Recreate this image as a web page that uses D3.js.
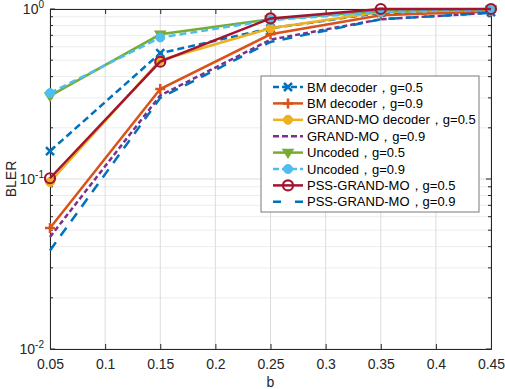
<!DOCTYPE html>
<html>
<head>
<meta charset="utf-8">
<script src="https://cdn.jsdelivr.net/npm/d3@7"></script>
<style>
	body { margin: 0; background: #fff; }
	text { font-family: "Liberation Sans", Arial, sans-serif; }
</style>
</head>
<body>
<div id="chart"></div>
<script>
// data
var bValues = [0.05, 0.15, 0.25, 0.35, 0.45];
var xTicks = [0.05, 0.1, 0.15, 0.2, 0.25, 0.3, 0.35, 0.4, 0.45];
var yDecades = [-2, -1, 0];

var seriesNames = [
	'BM decoder，g=0.5',
	'BM decoder，g=0.9',
	'GRAND-MO decoder，g=0.5',
	'GRAND-MO，g=0.9',
	'Uncoded，g=0.5',
	'Uncoded，g=0.9',
	'PSS-GRAND-MO，g=0.5',
	'PSS-GRAND-MO，g=0.9'
];

var bmG05 = [0.146, 0.55, 0.77, 0.95, 0.96];
var bmG09 = [0.0515, 0.338, 0.71, 0.92, 0.97];
var grandG05 = [0.096, 0.50, 0.77, 0.96, 0.99];
var grandG09 = [0.0456, 0.31, 0.66, 0.87, 0.95];
var uncodedG05 = [0.308, 0.71, 0.87, 0.97, 1.0];
var uncodedG09 = [0.32, 0.68, 0.86, 0.96, 0.99];
var pssG05 = [0.101, 0.49, 0.88, 1.0, 1.0];
var pssG09 = [0.038, 0.30, 0.64, 0.87, 0.95];

var svgWidth = 505;
var svgHeight = 389;
var margin = {left: 50, top: 9, right: 14, bottom: 40};
var plotW = svgWidth - margin.left - margin.right;
var plotH = svgHeight - margin.top - margin.bottom;

var styles = [
	{values: bmG05, color: '#0072BD', dash: '7,4', marker: 'x'},
	{values: bmG09, color: '#D95319', dash: null, marker: '+'},
	{values: grandG05, color: '#EDB120', dash: null, marker: 'dot'},
	{values: grandG09, color: '#7E2F8E', dash: '5,3', marker: null},
	{values: uncodedG05, color: '#77AC30', dash: null, marker: 'tri'},
	{values: uncodedG09, color: '#4DBEEE', dash: '7,4', marker: 'dot'},
	{values: pssG05, color: '#A2142F', dash: null, marker: 'o'},
	{values: pssG09, color: '#0072BD', dash: '10,8', marker: null}
];

var x = d3.scaleLinear().domain([0.05, 0.45]).range([0, plotW]);
var y = d3.scaleLog().domain([0.01, 1]).range([plotH, 0]);

var svg = d3.select('#chart')
	.append('svg')
	.attr('width', svgWidth)
	.attr('height', svgHeight);

var g = svg.append('g')
	.attr('transform', 'translate(' + margin.left + ',' + margin.top + ')');

// grid
var minor = [];
for (var d = -2; d < 0; d++) {
	for (var k = 2; k < 10; k++) minor.push(k * Math.pow(10, d));
}
g.selectAll('.ygrid-minor')
	.data(minor)
	.enter()
	.append('line')
	.attr('x1', 0).attr('x2', plotW)
	.attr('y1', function(d) { return y(d); })
	.attr('y2', function(d) { return y(d); })
	.attr('stroke', '#ececec')
	.attr('stroke-width', 1);

g.selectAll('.ygrid')
	.data(yDecades)
	.enter()
	.append('line')
	.attr('x1', 0).attr('x2', plotW)
	.attr('y1', function(d) { return y(Math.pow(10, d)); })
	.attr('y2', function(d) { return y(Math.pow(10, d)); })
	.attr('stroke', '#dcdcdc');

g.selectAll('.xgrid')
	.data(xTicks)
	.enter()
	.append('line')
	.attr('x1', function(d) { return x(d); })
	.attr('x2', function(d) { return x(d); })
	.attr('y1', 0).attr('y2', plotH)
	.attr('stroke', '#dcdcdc');

// axes with inward ticks
var xAxis = d3.axisBottom(x).tickValues(xTicks).tickSize(-5).tickPadding(10)
	.tickFormat(function(d) { return d3.format('')(+d.toFixed(2)); });
var gx = g.append('g')
	.attr('transform', 'translate(0,' + plotH + ')')
	.call(xAxis);
gx.select('.domain').attr('stroke', '#262626');
gx.selectAll('.tick line').attr('stroke', '#262626');
gx.selectAll('.tick text')
	.style('font-size', '14px')
	.attr('fill', '#262626');

var gxTop = g.append('g').call(d3.axisTop(x).tickValues(xTicks).tickSize(-5).tickFormat(''));
gxTop.select('.domain').attr('stroke', '#262626');
gxTop.selectAll('.tick line').attr('stroke', '#262626');

var yTickVals = minor.concat(yDecades.map(function(d) { return Math.pow(10, d); }));
var gy = g.append('g').call(d3.axisLeft(y).tickValues(yTickVals).tickSize(0).tickFormat(''));
gy.select('.domain').attr('stroke', '#262626');
var gyR = g.append('g').attr('transform', 'translate(' + plotW + ',0)')
	.call(d3.axisRight(y).tickValues(yTickVals).tickSize(0).tickFormat(''));
gyR.select('.domain').attr('stroke', '#262626');

// inward y ticks: long for decades, short for minor
[0, plotW].forEach(function(px) {
	var dir = px === 0 ? 1 : -1;
	g.selectAll(null)
		.data(yTickVals)
		.enter()
		.append('line')
		.attr('x1', px)
		.attr('x2', function(d) {
			var isMajor = Math.abs(Math.log10(d) - Math.round(Math.log10(d))) < 1e-6;
			return px + dir * (isMajor ? 5 : 3);
		})
		.attr('y1', function(d) { return y(d); })
		.attr('y2', function(d) { return y(d); })
		.attr('stroke', '#262626');
});

// y tick labels 10^n
var yLab = g.selectAll('.ylab')
	.data(yDecades)
	.enter()
	.append('text')
	.attr('x', -6)
	.attr('y', function(d) { return y(Math.pow(10, d)) + 5; })
	.style('text-anchor', 'end')
	.style('font-size', '14px')
	.attr('fill', '#262626');
yLab.append('tspan').text('10');
yLab.append('tspan')
	.attr('dy', -6)
	.style('font-size', '10px')
	.text(function(d) { return d; });

// axis titles
svg.append('text')
	.attr('x', margin.left + plotW / 2)
	.attr('y', 387)
	.style('text-anchor', 'middle')
	.style('font-size', '14px')
	.attr('fill', '#262626')
	.text('b');

svg.append('text')
	.attr('transform', 'translate(16,' + (margin.top + plotH / 2) + ') rotate(-90)')
	.style('text-anchor', 'middle')
	.style('font-size', '14px')
	.attr('fill', '#262626')
	.text('BLER');

// lines and markers
var line = d3.line()
	.x(function(d, i) { return x(bValues[i]); })
	.y(function(d) { return y(d); });

function drawMarker(sel, type, color) {
	if (type === 'x') {
		sel.append('path').attr('d', 'M-4,-4L4,4M-4,4L4,-4')
			.attr('stroke', color).attr('stroke-width', 2.5).attr('fill', 'none');
	} else if (type === '+') {
		sel.append('path').attr('d', 'M-5,0L5,0M0,-5L0,5')
			.attr('stroke', color).attr('stroke-width', 2.5).attr('fill', 'none');
	} else if (type === 'dot') {
		sel.append('circle').attr('r', 4.5).attr('fill', color).attr('stroke', color);
	} else if (type === 'tri') {
		sel.append('path').attr('d', 'M-5,-3L5,-3L0,5Z')
			.attr('fill', color).attr('stroke', color).attr('stroke-width', 1.5);
	} else if (type === 'o') {
		sel.append('circle').attr('r', 5).attr('fill', 'none')
			.attr('stroke', color).attr('stroke-width', 2.2);
	}
}

styles.forEach(function(s) {
	g.append('path')
		.datum(s.values)
		.attr('d', line)
		.attr('fill', 'none')
		.attr('stroke', s.color)
		.attr('stroke-width', 2.5)
		.attr('stroke-dasharray', s.dash);
	if (s.marker) {
		s.values.forEach(function(v, i) {
			var m = g.append('g')
				.attr('transform', 'translate(' + x(bValues[i]) + ',' + y(v) + ')');
			drawMarker(m, s.marker, s.color);
		});
	}
});

// legend
var legX = 261, legY = 76, legW = 218, legH = 136, rowH = 16.4;
var legend = svg.append('g');
legend.append('rect')
	.attr('x', legX).attr('y', legY)
	.attr('width', legW).attr('height', legH)
	.attr('fill', '#fff')
	.attr('stroke', '#7a7a7a')
	.attr('stroke-width', 1);

styles.forEach(function(s, i) {
	var cy = legY + 11 + i * rowH;
	var row = legend.append('g');
	row.append('line')
		.attr('x1', legX + 12).attr('x2', legX + 42)
		.attr('y1', cy).attr('y2', cy)
		.attr('stroke', s.color)
		.attr('stroke-width', 2.5)
		.attr('stroke-dasharray', s.dash === '10,8' ? '8,14' : (s.dash ? '6,3' : null));
	if (s.marker) {
		var m = row.append('g').attr('transform', 'translate(' + (legX + 27) + ',' + cy + ')');
		drawMarker(m, s.marker, s.color);
	}
	row.append('text')
		.attr('x', legX + 46)
		.attr('y', cy + 4.5)
		.style('font-size', '13px')
		.attr('fill', '#000')
		.text(seriesNames[i]);
});
</script>
</body>
</html>
